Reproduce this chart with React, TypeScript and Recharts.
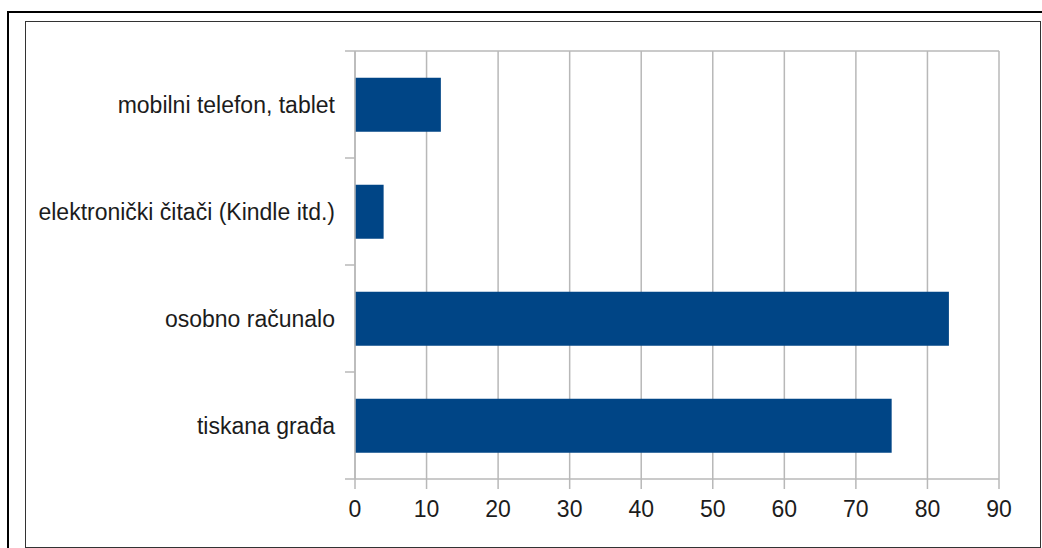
import { BarChart, Bar, XAxis, YAxis, CartesianGrid } from 'recharts';

const categories = [
  'mobilni telefon, tablet',
  'elektronički čitači (Kindle itd.)',
  'osobno računalo',
  'tiskana građa',
];
const values = [12, 4, 83, 75];
const xTicks = [0, 10, 20, 30, 40, 50, 60, 70, 80, 90];

const data = categories.map((name, i) => ({ name, value: values[i] }));

const FONT = '"Liberation Sans", Arial, sans-serif';
const GRID = '#b8b8b8';
const TEXT = '#1c1c1c';
const FONT_SIZE = 23;
const LABEL_GAP = 20;

// category label plus tick marks on the band edges (LibreOffice style)
function CategoryTick(props: any) {
  const { x, y, payload, index, visibleTicksCount } = props;
  const half = payload?.offset ?? 0;
  const axisX = x + LABEL_GAP;
  const isLast = index === (visibleTicksCount ?? categories.length) - 1;
  return (
    <g>
      <line x1={axisX - 10} x2={axisX} y1={y - half} y2={y - half} stroke={GRID} strokeWidth={1.5} />
      {isLast && (
        <line x1={axisX - 10} x2={axisX} y1={y + half} y2={y + half} stroke={GRID} strokeWidth={1.5} />
      )}
      <text
        x={x}
        y={y}
        textAnchor="end"
        dominantBaseline="central"
        fill={TEXT}
        fontSize={FONT_SIZE}
        fontFamily={FONT}
      >
        {payload.value}
      </text>
    </g>
  );
}

export default function App() {
  return (
    <div
      style={{
        position: 'absolute',
        top: 0,
        left: 0,
        width: 1042,
        height: 548,
        background: '#fff',
        overflow: 'hidden',
        fontFamily: FONT,
      }}
    >
      {/* outer frame lines */}
      <div style={{ position: 'absolute', left: 7, top: 11, width: 1035, height: 0, borderTop: '2px solid #000' }} />
      <div style={{ position: 'absolute', left: 7, top: 11, width: 0, height: 537, borderLeft: '2px solid #000' }} />
      {/* inner frame */}
      <div
        style={{
          position: 'absolute',
          left: 25,
          top: 21,
          width: 1014,
          height: 525,
          border: '1px solid #333',
          boxSizing: 'content-box',
        }}
      />
      <div style={{ position: 'absolute', left: 0, top: 0 }}>
        <BarChart
          width={1042}
          height={548}
          data={data}
          layout="vertical"
          margin={{ top: 50, right: 43, bottom: 29, left: 0 }}
          barCategoryGap="25%"
        >
          <CartesianGrid horizontal={false} stroke={GRID} strokeWidth={1.5} />
          <XAxis
            type="number"
            domain={[0, 90]}
            ticks={xTicks}
            height={40}
            tickSize={10}
            tickMargin={12}
            axisLine={{ stroke: GRID, strokeWidth: 1.5 }}
            tickLine={{ stroke: GRID, strokeWidth: 1.5 }}
            tick={{ fill: TEXT, fontSize: FONT_SIZE, fontFamily: FONT }}
          />
          <XAxis
            xAxisId="top"
            orientation="top"
            type="number"
            domain={[0, 90]}
            height={1}
            tick={false}
            tickLine={false}
            axisLine={{ stroke: GRID, strokeWidth: 1.5 }}
          />
          <YAxis
            type="category"
            dataKey="name"
            width={355}
            tickSize={0}
            tickMargin={LABEL_GAP}
            axisLine={{ stroke: GRID, strokeWidth: 1.5 }}
            tickLine={false}
            tick={<CategoryTick />}
          />
          <Bar dataKey="value" fill="#004586" isAnimationActive={false} />
        </BarChart>
      </div>
    </div>
  );
}
